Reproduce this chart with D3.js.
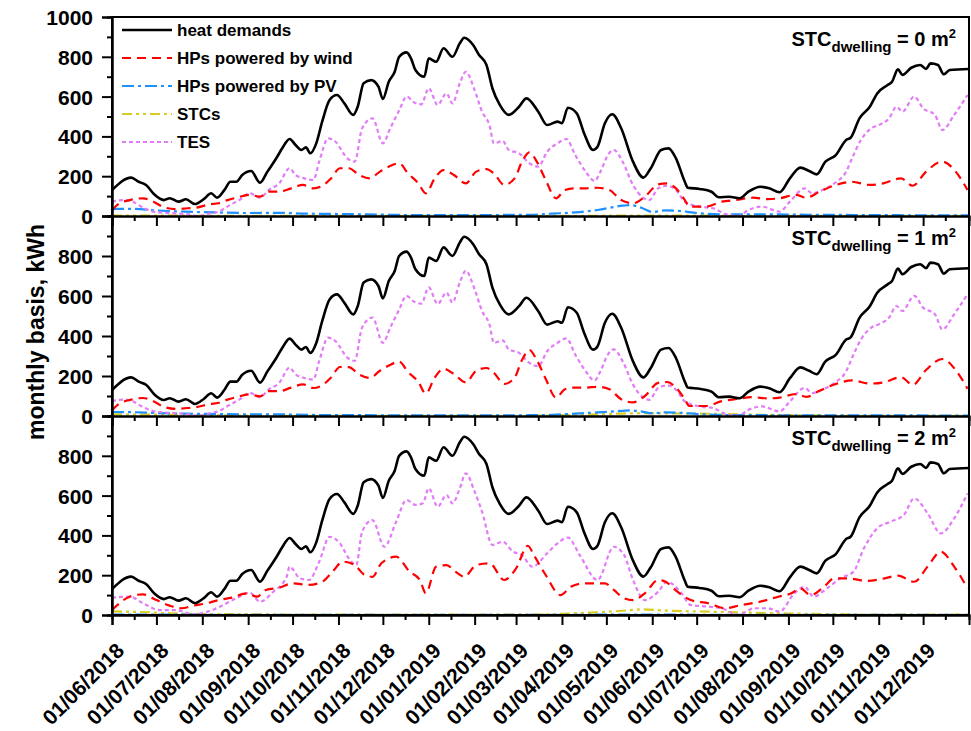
<!DOCTYPE html>
<html><head><meta charset="utf-8">
<script src="https://cdn.jsdelivr.net/npm/d3@7"></script>
<style>
body{margin:0;background:#fff}
svg text{font-family:Arial,"Liberation Sans",sans-serif;font-weight:bold;fill:#000}
</style>
</head><body><svg id="c" width="971" height="731"></svg>
<script>
// ---------- DATA ----------
const panelLabels = ["0", "1", "2"];
const legendNames = ["heat demands", "HPs powered by wind", "HPs powered by PV", "STCs", "TES"];
const yTickLabelsTop = [0, 200, 400, 600, 800, 1000];
const yTickLabelsOther = [0, 200, 400, 600, 800];

// heat demands (identical in the three panels)
const heatDates = ["2018-06-01","2018-06-14","2018-06-19","2018-06-24","2018-06-30","2018-07-06","2018-07-10","2018-07-16","2018-07-21","2018-07-27","2018-08-02","2018-08-07","2018-08-11","2018-08-16","2018-08-20","2018-08-24","2018-08-28","2018-09-03","2018-09-09","2018-09-14","2018-09-20","2018-09-24","2018-09-29","2018-10-03","2018-10-07","2018-10-10","2018-10-13","2018-10-17","2018-10-21","2018-10-26","2018-10-31","2018-11-05","2018-11-11","2018-11-14","2018-11-18","2018-11-23","2018-11-28","2018-12-01","2018-12-05","2018-12-09","2018-12-12","2018-12-17","2018-12-20","2018-12-23","2018-12-29","2019-01-01","2019-01-06","2019-01-11","2019-01-17","2019-01-22","2019-01-25","2019-01-31","2019-02-04","2019-02-09","2019-02-13","2019-02-18","2019-02-24","2019-03-03","2019-03-08","2019-03-16","2019-03-22","2019-03-29","2019-04-01","2019-04-05","2019-04-11","2019-04-16","2019-04-22","2019-04-25","2019-04-30","2019-05-05","2019-05-11","2019-05-19","2019-05-26","2019-05-31","2019-06-07","2019-06-12","2019-06-17","2019-06-23","2019-06-25","2019-07-03","2019-07-11","2019-07-16","2019-07-23","2019-07-30","2019-08-05","2019-08-13","2019-08-19","2019-08-26","2019-09-02","2019-09-09","2019-09-15","2019-09-20","2019-09-26","2019-10-03","2019-10-10","2019-10-13","2019-10-19","2019-10-26","2019-10-31","2019-11-07","2019-11-10","2019-11-14","2019-11-17","2019-11-23","2019-11-29","2019-12-03","2019-12-06","2019-12-11","2019-12-15","2019-12-19","2020-01-01"];
const heatValues = [130,193,172,156,105,80,89,72,84,60,85,114,92,131,172,172,206,226,167,223,290,340,387,357,332,345,315,365,474,583,608,566,508,549,667,683,650,588,675,725,800,822,792,734,700,792,775,843,800,868,896,859,809,759,642,558,508,549,591,524,457,474,466,544,516,415,332,348,466,511,441,273,193,240,332,340,290,172,142,136,122,94,97,89,122,147,139,119,189,243,226,209,273,306,382,393,491,549,616,658,675,737,709,745,759,739,767,759,712,734,739];

// HPs powered by wind
const windDatesA = ["2018-06-01","2018-06-06","2018-06-13","2018-06-22","2018-06-29","2018-07-06","2018-07-14","2018-07-22","2018-07-28","2018-08-06","2018-08-12","2018-08-18","2018-08-24","2018-09-02","2018-09-09","2018-09-15","2018-09-22","2018-09-30","2018-10-08","2018-10-15","2018-10-21","2018-10-27","2018-11-02","2018-11-08","2018-11-15","2018-11-22","2018-11-29","2018-12-05","2018-12-12","2018-12-18","2018-12-25","2018-12-30","2019-01-05","2019-01-11","2019-01-18","2019-01-26","2019-02-02","2019-02-09","2019-02-14","2019-02-21","2019-02-28","2019-03-05","2019-03-10","2019-03-15","2019-03-21","2019-03-28","2019-04-03","2019-04-09","2019-04-17","2019-04-25","2019-05-03","2019-05-11","2019-05-19","2019-05-27","2019-06-05","2019-06-11","2019-06-17","2019-06-23","2019-06-26","2019-07-07","2019-07-18","2019-07-27","2019-08-08","2019-08-18","2019-08-26","2019-09-06","2019-09-13","2019-09-22","2019-10-03","2019-10-14","2019-10-26","2019-11-04","2019-11-16","2019-11-24","2019-12-03","2019-12-14","2019-12-23","2019-12-31"];
const windValues0 = [30,64,80,89,72,44,35,39,42,59,64,80,92,106,97,122,122,139,156,139,151,189,240,240,206,189,223,248,265,214,164,114,189,231,206,164,223,236,214,156,189,273,320,273,181,89,131,139,139,142,131,80,64,97,159,164,139,80,47,47,72,80,92,85,89,106,92,122,156,172,156,164,189,152,223,273,223,131];
const windValues1 = [28,62,80,90,74,46,36,40,44,60,66,82,94,108,98,124,124,142,158,140,154,192,245,244,208,190,226,252,272,220,170,112,192,236,210,168,226,240,216,160,192,280,330,280,186,92,134,142,142,146,134,84,68,100,166,170,142,84,50,50,74,84,94,88,92,110,96,126,160,178,162,168,194,156,230,285,230,136];
const windDatesC = ["2018-06-01","2018-06-13","2018-06-22","2018-07-01","2018-07-10","2018-07-18","2018-07-26","2018-08-04","2018-08-12","2018-08-21","2018-08-31","2018-09-07","2018-09-13","2018-09-22","2018-10-01","2018-10-12","2018-10-21","2018-10-28","2018-11-04","2018-11-12","2018-11-18","2018-11-24","2018-11-30","2018-12-10","2018-12-19","2018-12-26","2018-12-30","2019-01-06","2019-01-13","2019-01-19","2019-01-25","2019-02-02","2019-02-11","2019-02-21","2019-03-01","2019-03-09","2019-03-13","2019-03-21","2019-03-31","2019-04-07","2019-04-16","2019-04-30","2019-05-06","2019-05-13","2019-05-19","2019-05-27","2019-06-05","2019-06-10","2019-06-18","2019-06-27","2019-07-09","2019-07-20","2019-07-31","2019-08-13","2019-08-25","2019-09-03","2019-09-09","2019-09-16","2019-09-25","2019-10-02","2019-10-11","2019-10-24","2019-11-05","2019-11-14","2019-11-25","2019-12-04","2019-12-13","2019-12-22","2019-12-31"];
const windValues2 = [25,92,104,75,47,34,47,59,75,87,109,92,126,137,159,151,167,218,268,251,205,192,260,293,218,176,109,243,251,218,192,251,260,176,234,348,301,201,100,142,159,159,126,84,75,109,176,167,117,75,59,34,50,67,92,109,134,100,142,184,184,171,184,198,167,243,318,243,134];

// HPs powered by PV
const pvDates = ["2018-06-01","2018-06-15","2018-07-01","2018-07-20","2018-08-10","2018-09-01","2018-09-20","2018-10-10","2018-11-01","2018-11-20","2018-12-15","2019-01-15","2019-02-15","2019-03-10","2019-03-25","2019-04-10","2019-04-25","2019-05-12","2019-05-17","2019-05-25","2019-06-01","2019-06-10","2019-06-20","2019-07-01","2019-07-20","2019-08-15","2019-09-15","2019-10-15","2019-11-15","2019-12-15","2020-01-01"];
const pvValues0 = [35,36,28,22,18,15,16,12,10,8,5,4,5,6,12,18,30,52,55,40,20,28,25,15,8,8,6,5,4,3,3];
const pvValues1 = [20,19,15,12,10,8,8,6,4,4,3,3,3,4,6,12,18,26,28,22,14,18,16,10,5,4,3,3,3,2,2];
const pvValues2 = [2,2,2,2,1,1,1,1,1,1,1,1,1,1,1,1,2,2,2,2,2,2,2,1,1,1,1,1,1,1,1];

// STCs
const stcDates = ["2018-06-01","2018-06-20","2018-07-10","2018-08-01","2018-09-01","2018-10-01","2018-11-01","2018-12-01","2019-01-01","2019-02-01","2019-03-01","2019-04-01","2019-04-20","2019-05-10","2019-05-25","2019-06-10","2019-06-30","2019-07-20","2019-08-15","2019-09-15","2019-10-15","2019-11-15","2019-12-15","2020-01-01"];
const stcValues0 = [2,2,2,1,1,1,1,1,1,1,1,1,1,2,2,2,2,1,1,1,1,1,1,1];
const stcValues1 = [8,7,6,4,2,1,1,1,1,1,1,4,7,12,14,13,12,10,6,3,1,1,1,1];
const stcValues2 = [18,15,8,5,4,2,2,2,2,2,2,6,12,20,28,22,18,15,10,6,3,2,2,2];

// TES
const tesDatesA = ["2018-06-01","2018-06-09","2018-06-15","2018-06-22","2018-06-29","2018-07-05","2018-07-14","2018-07-23","2018-07-29","2018-08-06","2018-08-12","2018-08-19","2018-08-26","2018-09-02","2018-09-09","2018-09-15","2018-09-22","2018-09-29","2018-10-03","2018-10-09","2018-10-15","2018-10-19","2018-10-25","2018-10-30","2018-11-07","2018-11-12","2018-11-17","2018-11-24","2018-12-01","2018-12-06","2018-12-12","2018-12-17","2018-12-22","2018-12-27","2019-01-01","2019-01-07","2019-01-13","2019-01-17","2019-01-22","2019-01-26","2019-02-01","2019-02-06","2019-02-11","2019-02-14","2019-02-20","2019-02-24","2019-03-03","2019-03-10","2019-03-16","2019-03-22","2019-03-29","2019-04-04","2019-04-10","2019-04-17","2019-04-23","2019-04-27","2019-05-02","2019-05-06","2019-05-12","2019-05-19","2019-05-25","2019-05-30","2019-06-05","2019-06-11","2019-06-17","2019-06-23","2019-07-03","2019-07-12","2019-07-21","2019-07-29","2019-08-05","2019-08-14","2019-08-26","2019-09-02","2019-09-12","2019-09-17","2019-09-24","2019-10-02","2019-10-10","2019-10-14","2019-10-20","2019-10-27","2019-11-01","2019-11-08","2019-11-13","2019-11-17","2019-11-25","2019-12-01","2019-12-09","2019-12-14","2019-12-22","2019-12-31"];
const tesValues0 = [72,80,72,42,22,17,13,8,0,13,22,52,80,114,92,131,164,240,206,189,181,273,390,373,290,273,441,491,365,441,530,600,571,561,642,558,616,566,667,725,633,524,457,365,377,332,315,265,248,323,365,387,306,223,176,223,306,332,273,156,97,80,139,152,131,72,47,39,8,0,30,47,22,72,139,114,131,164,223,290,382,441,457,491,549,524,600,541,508,432,508,608];
const tesValues1 = [74,82,74,44,24,18,14,8,1,14,24,54,82,116,94,133,166,242,208,190,182,275,392,374,292,275,443,492,366,442,532,601,572,562,643,560,617,567,668,726,634,525,458,366,378,333,316,266,249,324,366,388,307,224,177,224,307,333,274,157,98,81,140,153,132,73,48,40,9,1,31,48,23,73,140,115,132,165,224,291,383,442,458,492,550,525,601,542,509,433,509,609];
const tesDatesC = ["2018-06-01","2018-06-13","2018-06-22","2018-07-03","2018-07-14","2018-07-26","2018-08-06","2018-08-15","2018-08-24","2018-09-02","2018-09-09","2018-09-18","2018-09-27","2018-09-29","2018-10-06","2018-10-12","2018-10-19","2018-10-26","2018-11-02","2018-11-08","2018-11-13","2018-11-17","2018-11-24","2018-12-02","2018-12-10","2018-12-17","2018-12-23","2018-12-28","2019-01-01","2019-01-07","2019-01-13","2019-01-17","2019-01-22","2019-01-26","2019-02-01","2019-02-06","2019-02-13","2019-02-20","2019-02-27","2019-03-05","2019-03-12","2019-03-22","2019-03-29","2019-04-05","2019-04-13","2019-04-25","2019-05-06","2019-05-13","2019-05-19","2019-05-27","2019-06-05","2019-06-11","2019-06-20","2019-06-27","2019-07-09","2019-07-18","2019-07-29","2019-08-09","2019-08-18","2019-08-26","2019-09-05","2019-09-12","2019-09-18","2019-09-27","2019-10-06","2019-10-15","2019-10-22","2019-10-31","2019-11-09","2019-11-18","2019-11-25","2019-12-04","2019-12-13","2019-12-22","2019-12-31"];
const tesValues2 = [87,92,59,25,25,4,20,50,84,112,67,117,192,243,184,176,268,393,360,285,251,419,477,343,469,578,553,561,637,544,603,561,637,712,620,519,352,368,318,301,243,310,360,389,301,176,343,301,176,75,117,167,117,50,42,34,0,34,34,17,109,142,92,134,184,218,335,436,469,503,586,511,410,486,611];

// ---------- LAYOUT ----------
const svg = d3.select("#c");
const L = 112, R = 969;
const panels = [
  {top: 17, bottom: 216},
  {top: 216, bottom: 416},
  {top: 416, bottom: 615}
];
const parse = d3.timeParse("%Y-%m-%d");
const x = d3.scaleTime().domain([new Date(2018,5,1), new Date(2020,0,1)]).range([L, R]);
const monthTicks = d3.timeMonth.range(new Date(2018,5,1), new Date(2019,11,2));
const midTicks = monthTicks.map(d => d3.timeDay.offset(d, 15));
const fmt = d3.timeFormat("%d/%m/%Y");

const styles = {
  heat:{c:"#000000", w:2.6, dash:null},
  wind:{c:"#ff0000", w:2.2, dash:"9,6"},
  pv:{c:"#1e90ff", w:2.2, dash:"12,4,3,4"},
  stc:{c:"#d8cc20", w:2.2, dash:"10,4,3,4,3,4"},
  tes:{c:"#e27cf7", w:2.2, dash:"4,3"}
};

const panelSeries = [
  {wind:[windDatesA, windValues0], pv:[pvDates,pvValues0], stc:[stcDates,stcValues0], tes:[tesDatesA,tesValues0]},
  {wind:[windDatesA, windValues1], pv:[pvDates,pvValues1], stc:[stcDates,stcValues1], tes:[tesDatesA,tesValues1]},
  {wind:[windDatesC, windValues2], pv:[pvDates,pvValues2], stc:[stcDates,stcValues2], tes:[tesDatesC,tesValues2]}
];

panels.forEach((p, i) => {
  const y = d3.scaleLinear().domain([0, 1000]).range([p.bottom, p.top]);
  const g = svg.append("g");
  const line = d3.line().x(d => x(d[0])).y(d => y(d[1])).curve(d3.curveMonotoneX);
  const order = ["stc","pv","tes","wind"];
  const s = panelSeries[i];
  order.forEach(k => {
    const data = s[k][0].map((dt, j) => [parse(dt), s[k][1][j]]);
    g.append("path").datum(data).attr("d", line)
      .attr("fill","none").attr("stroke", styles[k].c).attr("stroke-width", styles[k].w)
      .attr("stroke-dasharray", styles[k].dash);
  });
  const hdata = heatDates.map((dt, j) => [parse(dt), heatValues[j]]);
  g.append("path").datum(hdata).attr("d", line)
    .attr("fill","none").attr("stroke", styles.heat.c).attr("stroke-width", styles.heat.w)
    .attr("stroke-linejoin","round");

  // y axis
  const yMajor = d3.axisLeft(y).tickValues(i === 0 ? yTickLabelsTop : yTickLabelsOther)
    .tickSize(10).tickPadding(9).tickFormat(d3.format("d"));
  const ya = svg.append("g").attr("transform", `translate(${L},0)`).call(yMajor);
  ya.selectAll("text").style("font-size","21px").attr("dy","0.36em");
  const yMinor = d3.axisLeft(y).tickValues([100,300,500,700,900]).tickSize(5).tickFormat("");
  svg.append("g").attr("transform", `translate(${L},0)`).call(yMinor);

  // x axis
  const xMajor = d3.axisBottom(x).tickValues(monthTicks).tickSize(10)
    .tickFormat(i === 2 ? fmt : "");
  const xa = svg.append("g").attr("transform", `translate(0,${p.bottom})`).call(xMajor);
  const xMinor = d3.axisBottom(x).tickValues(midTicks).tickSize(5).tickFormat("");
  svg.append("g").attr("transform", `translate(0,${p.bottom})`).call(xMinor);
  if (i === 2) {
    xa.selectAll("text").attr("x",0).attr("y",0).attr("dy",0)
      .attr("transform","translate(13,37) rotate(-45)")
      .style("text-anchor","end").style("font-size","21px");
  }

  // panel label
  const t = svg.append("text").attr("x", 956).attr("y", p.top + 29)
    .attr("text-anchor","end").style("font-size","20px");
  t.append("tspan").text("STC");
  t.append("tspan").attr("dy", 6).style("font-size","15px").text("dwelling");
  t.append("tspan").attr("dy", -6).text(" = " + panelLabels[i] + " m");
  t.append("tspan").attr("dy", -8).style("font-size","13px").text("2");
});

svg.selectAll(".domain").attr("stroke-width", 2);
svg.selectAll(".tick line").attr("stroke-width", 2);
// frame
svg.append("rect").attr("x", L).attr("y", panels[0].top).attr("width", R - L).attr("height", panels[2].bottom - panels[0].top)
  .attr("fill","none").attr("stroke","#000").attr("stroke-width",2);

// legend
const legKeys = ["heat","wind","pv","stc","tes"];
const leg = svg.append("g");
legKeys.forEach((k, i) => {
  const yy = 30 + i * 28;
  leg.append("line").attr("x1",122).attr("x2",172).attr("y1",yy).attr("y2",yy)
    .attr("stroke", styles[k].c).attr("stroke-width", styles[k].w).attr("stroke-dasharray", styles[k].dash);
  leg.append("text").attr("x",177).attr("y",yy+6).style("font-size","17px").text(legendNames[i]);
});

// y axis title
svg.append("text").attr("transform","translate(44,332) rotate(-90)").attr("text-anchor","middle")
  .style("font-size","23px").text("monthly basis, kWh");
</script></body></html>
